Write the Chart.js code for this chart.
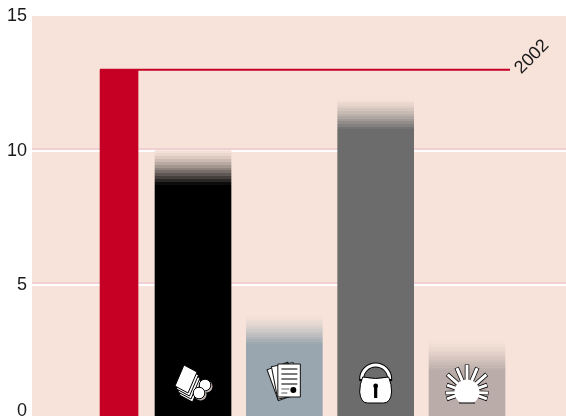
<!DOCTYPE html>
<html>
<head>
<meta charset="utf-8">
<style>
html,body{margin:0;padding:0;width:566px;height:416px;overflow:hidden;background:#fff}
canvas{display:block}
</style>
<script src="https://cdn.jsdelivr.net/npm/chart.js@4"></script>
</head>
<body>
<canvas id="c" width="566" height="422"></canvas>
<script>
// Data
const categories = ['2002', 'Cards and coins', 'Documents', 'Security', 'Energy'];
const xPositions = [0.19, 1, 2, 3, 4];
const values = [13, 10, 3.9, 11.95, 3];
const referenceLineValue = 13;
const referenceLineLabel = '2002';
const referenceLineX = [-0.018, 4.471];
const yTicks = [0, 5, 10, 15];

// Styles
const PANEL = [247, 227, 217];
const barColors = [[198, 0, 36], [0, 0, 0], [153, 166, 175], [108, 108, 108], [186, 173, 169]];
const fadeHeights = [0, 34, 29, 31, 31];
const FADE_STEPS = 12;
const rgb = c => `rgb(${c[0]},${c[1]},${c[2]})`;

function bandedFill(ctx, i) {
  const chart = ctx.chart;
  const col = barColors[i];
  if (!fadeHeights[i] || !chart.chartArea || !chart.scales.y) return rgb(col);
  const top = chart.scales.y.getPixelForValue(values[i]);
  const bottom = chart.scales.y.getPixelForValue(0);
  const g = chart.ctx.createLinearGradient(0, top, 0, bottom);
  const span = bottom - top;
  for (let s = 0; s < FADE_STEPS; s++) {
    const t = Math.pow((s + 0.5) / FADE_STEPS, 1.4);
    const c = PANEL.map((p, k) => Math.round(p + (col[k] - p) * t));
    const a = s / FADE_STEPS * fadeHeights[i] / span;
    const b = (s + 1) / FADE_STEPS * fadeHeights[i] / span;
    g.addColorStop(a, rgb(c));
    g.addColorStop(b, rgb(c));
  }
  g.addColorStop(fadeHeights[i] / span, rgb(col));
  g.addColorStop(1, rgb(col));
  return g;
}

// Icons, drawn relative to the foot of their bar
function iconCards(c) {
  const card = (dx, dy) => {
    c.beginPath();
    c.moveTo(-9 + dx, -55 + dy);
    c.lineTo(4 + dx, -48 + dy);
    c.lineTo(-5 + dx, -27 + dy);
    c.lineTo(-18 + dx, -34 + dy);
    c.closePath();
    c.fillStyle = '#fff';
    c.strokeStyle = '#000';
    c.lineWidth = 1;
    c.fill();
    c.stroke();
  };
  card(4.5, 9); card(3, 6); card(1.5, 3); card(0, 0);
  const coin = (x, y) => {
    c.fillStyle = '#bdb1ab';
    c.beginPath(); c.arc(x + 1.5, y + 1.5, 6, 0, 7); c.fill();
    c.fillStyle = '#fff';
    c.strokeStyle = '#000';
    c.beginPath(); c.arc(x, y, 5.8, 0, 7); c.fill(); c.stroke();
  };
  coin(12, -35); coin(6, -27);
}
function iconDocs(c) {
  c.strokeStyle = '#111';
  c.lineWidth = 1;
  c.fillStyle = '#fff';
  const page = (deg) => {
    c.save();
    c.translate(4, -24);
    c.rotate(deg * Math.PI / 180);
    c.beginPath();
    c.rect(-11, -32, 22, 33);
    c.fill(); c.stroke();
    c.restore();
  };
  page(-20); page(-11);
  c.beginPath();
  c.rect(-6.5, -56, 22.5, 33);
  c.fill(); c.stroke();
  c.strokeStyle = '#222';
  c.lineWidth = 1.2;
  [-51, -46, -41, -36].forEach(y => {
    c.beginPath(); c.moveTo(-3, y); c.lineTo(13, y); c.stroke();
  });
  c.strokeStyle = '#777';
  c.beginPath(); c.moveTo(-3, -31); c.lineTo(5, -31); c.stroke();
  c.beginPath(); c.moveTo(-3, -27); c.lineTo(3, -27); c.stroke();
  c.fillStyle = '#000';
  c.beginPath(); c.arc(9, -30, 3, 0, 7); c.fill();
}
function iconLock(c) {
  c.lineCap = 'butt';
  c.strokeStyle = '#000';
  c.lineWidth = 5;
  c.beginPath(); c.arc(0, -41, 14, Math.PI, 0); c.lineTo(14, -39); c.moveTo(-14, -41); c.lineTo(-14, -39); c.stroke();
  c.strokeStyle = '#fff';
  c.lineWidth = 3;
  c.beginPath(); c.arc(0, -41, 14, Math.PI, 0); c.stroke();
  c.fillStyle = '#fff';
  c.strokeStyle = '#000';
  c.lineWidth = 1;
  c.beginPath();
  c.moveTo(-13, -43);
  c.quadraticCurveTo(0, -40, 13, -43);
  c.quadraticCurveTo(16, -36, 16, -28);
  c.quadraticCurveTo(15, -17, 8, -17);
  c.lineTo(-8, -17);
  c.quadraticCurveTo(-15, -17, -16, -28);
  c.quadraticCurveTo(-16, -36, -13, -43);
  c.closePath();
  c.fill(); c.stroke();
  c.fillStyle = '#000';
  c.beginPath(); c.arc(0, -34, 2.4, 0, 7); c.fill();
  c.fillRect(-1.6, -34, 3.2, 12);
}
function iconSun(c) {
  const cy = -28;
  [90, 67, 113, 42, 138, 19, 161, -3, 183, -19, 199].forEach(a => {
    const r = a * Math.PI / 180;
    const x = Math.cos(r), y = -Math.sin(r);
    const outer = a === 90 ? 27 : (a === 67 || a === 113 || a === 42 || a === 138) ? 26 : 21;
    c.lineCap = 'butt';
    c.strokeStyle = '#000';
    c.lineWidth = 4.5;
    c.beginPath(); c.moveTo(x * 12, cy + y * 12); c.lineTo(x * (outer + .5), cy + y * (outer + .5)); c.stroke();
    c.strokeStyle = '#fff';
    c.lineWidth = 3;
    c.beginPath(); c.moveTo(x * 12, cy + y * 12); c.lineTo(x * outer, cy + y * outer); c.stroke();
  });
  c.fillStyle = '#fff';
  c.beginPath();
  const foot = Math.asin(11 / 12.5);
  c.arc(0, cy, 12.5, Math.PI - foot, foot);
  c.closePath();
  c.fill();
  c.beginPath(); c.moveTo(-8, -17); c.lineTo(8, -17); c.lineWidth = 1.2; c.strokeStyle = '#222'; c.stroke();
}
const icons = [null, iconCards, iconDocs, iconLock, iconSun];

const decor = {
  id: 'decor',
  beforeDraw(chart) {
    const a = chart.chartArea, c = chart.ctx;
    c.save();
    c.fillStyle = rgb(PANEL);
    c.fillRect(a.left, a.top, a.right - a.left, a.bottom - a.top);
    c.restore();
  },
  beforeDatasetsDraw(chart) {
    const a = chart.chartArea, c = chart.ctx, y = chart.scales.y;
    c.save();
    c.fillStyle = '#efd0d3';
    [5, 10].forEach(v => {
      const p = Math.round(y.getPixelForValue(v));
      c.fillRect(a.left, p - 3, a.right - a.left, 2);
    });
    c.restore();
  },
  afterDatasetsDraw(chart) {
    const c = chart.ctx, xs = chart.scales.x, ys = chart.scales.y;
    const foot = ys.getPixelForValue(0);
    icons.forEach((draw, i) => {
      if (!draw) return;
      c.save();
      c.translate(xs.getPixelForValue(xPositions[i]), foot);
      draw(c);
      c.restore();
    });
    c.save();
    c.translate(xs.getPixelForValue(referenceLineX[1]) + 22, ys.getPixelForValue(referenceLineValue) - 13);
    c.rotate(-Math.PI / 4);
    c.font = '18px "Liberation Sans", Arial, sans-serif';
    c.fillStyle = '#1a1a1a';
    c.textAlign = 'center';
    c.textBaseline = 'middle';
    c.fillText(referenceLineLabel, 0, 0);
    c.restore();
  }
};

new Chart(document.getElementById('c'), {
  data: {
    datasets: [
      {
        type: 'line',
        label: referenceLineLabel,
        data: referenceLineX.map(x => ({ x, y: referenceLineValue })),
        borderColor: rgb(barColors[0]),
        borderWidth: 2,
        pointRadius: 0,
        order: 0
      },
      {
        type: 'bar',
        label: categories[0],
        data: [{ x: xPositions[0], y: values[0] }],
        backgroundColor: rgb(barColors[0]),
        barThickness: 38,
        grouped: false,
        order: 1
      },
      {
        type: 'bar',
        label: 'Categories',
        data: xPositions.slice(1).map((x, i) => ({ x, y: values[i + 1] })),
        backgroundColor: ctx => bandedFill(ctx, ctx.dataIndex + 1),
        barThickness: 76,
        grouped: false,
        order: 2
      }
    ]
  },
  plugins: [decor],
  options: {
    responsive: false,
    animation: false,
    layout: { padding: { top: 16, bottom: 2, left: 0, right: 0 } },
    plugins: { legend: { display: false }, tooltip: { enabled: false }, title: { display: false } },
    scales: {
      x: { type: 'linear', offset: false, min: -0.763, max: 5.084, display: false },
      y: {
        min: 0,
        max: 15,
        afterBuildTicks: s => { s.ticks = yTicks.map(value => ({ value })); },
        afterFit: s => { s.width = 32; s.paddingTop = 0; s.paddingBottom = 0; },
        border: { display: false },
        grid: {
          drawTicks: false,
          lineWidth: 2,
          color: ctx => (ctx.tick && (ctx.tick.value === 5 || ctx.tick.value === 10)) ? '#ffffff' : 'rgba(0,0,0,0)'
        },
        ticks: {
          autoSkip: false,
          padding: 5,
          color: '#1a1a1a',
          font: { family: '"Liberation Sans", Arial, sans-serif', size: 18, lineHeight: 1 },
          callback: v => v === 0 ? ['0', ''] : String(v)
        }
      }
    }
  }
});
</script>
</body>
</html>
